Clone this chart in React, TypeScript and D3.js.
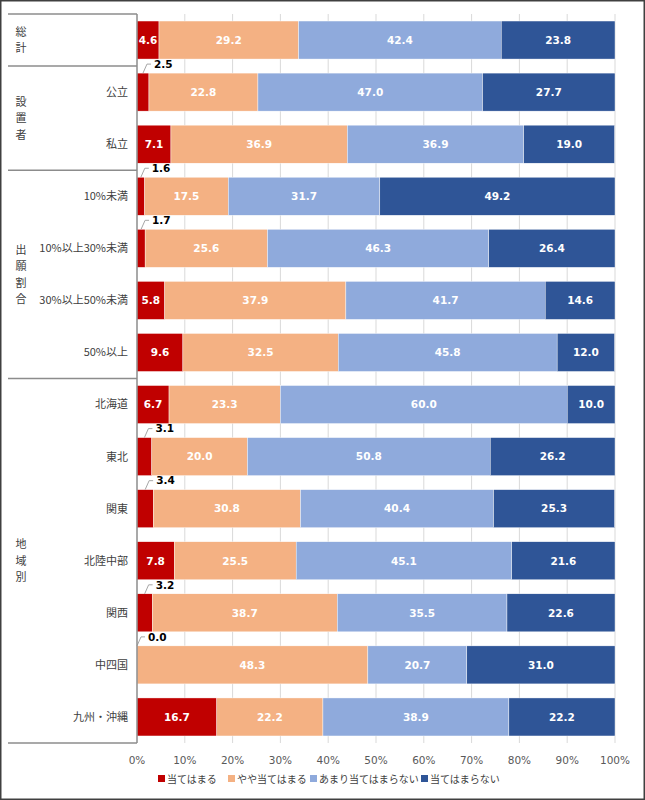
import React, { useEffect, useRef } from 'react';
import * as d3 from 'd3';

const categories = [
  '総計', '公立', '私立', '10%未満', '10%以上30%未満', '30%以上50%未満', '50%以上',
  '北海道', '東北', '関東', '北陸中部', '関西', '中四国', '九州・沖縄',
];
const rowLabels = [
  '', '公立', '私立', '10%未満', '10%以上30%未満', '30%以上50%未満', '50%以上',
  '北海道', '東北', '関東', '北陸中部', '関西', '中四国', '九州・沖縄',
];
const groupNames = ['総計', '設置者', '出願割合', '地域別'];
const groupSizes = [1, 2, 4, 7];

const seriesNames = ['当てはまる', 'やや当てはまる', 'あまり当てはまらない', '当てはまらない'];
const seriesColors = ['#C00000', '#F4B183', '#8FAADC', '#2F5597'];

const applies = [4.6, 2.5, 7.1, 1.6, 1.7, 5.8, 9.6, 6.7, 3.1, 3.4, 7.8, 3.2, 0.0, 16.7];
const somewhat = [29.2, 22.8, 36.9, 17.5, 25.6, 37.9, 32.5, 23.3, 20.0, 30.8, 25.5, 38.7, 48.3, 22.2];
const notMuch = [42.4, 47.0, 36.9, 31.7, 46.3, 41.7, 45.8, 60.0, 50.8, 40.4, 45.1, 35.5, 20.7, 38.9];
const notAtAll = [23.8, 27.7, 19.0, 49.2, 26.4, 14.6, 12.0, 10.0, 26.2, 25.3, 21.6, 22.6, 31.0, 22.2];

const xTicks = [0, 10, 20, 30, 40, 50, 60, 70, 80, 90, 100];

const W = 645;
const H = 800;

export default function App() {
  const svgRef = useRef<SVGSVGElement>(null);

  useEffect(() => {
    if (!svgRef.current) return;
    const svg = d3.select(svgRef.current);
    svg.selectAll('*').remove();

    const left = 137;
    const right = 615;
    const top = 14;
    const bottom = 743;
    const tableLeft = 8;

    const x = d3.scaleLinear().domain([0, 100]).range([left, right]);
    const y = d3
      .scaleBand<string>()
      .domain(categories)
      .range([top, bottom])
      .paddingInner(0.27)
      .paddingOuter(0.135);

    const labelFont = "'Noto Sans CJK JP', 'Noto Sans', sans-serif";
    const numFont = "'DejaVu Sans', Verdana, sans-serif";

    // Background + frame
    svg.append('rect').attr('width', W).attr('height', H).attr('fill', '#fff');

    // Grid lines
    svg
      .append('g')
      .selectAll('line')
      .data(xTicks.slice(1))
      .join('line')
      .attr('x1', d => x(d))
      .attr('x2', d => x(d))
      .attr('y1', top)
      .attr('y2', bottom)
      .attr('stroke', '#d9d9d9')
      .attr('stroke-width', 1);

    // Stacked bars
    const rows = categories.map((c, i) => ({
      cat: c,
      vals: [applies[i], somewhat[i], notMuch[i], notAtAll[i]],
    }));

    const barG = svg.append('g');
    rows.forEach(r => {
      let acc = 0;
      const y0 = y(r.cat) as number;
      const bh = y.bandwidth();
      r.vals.forEach((v, si) => {
        const x0 = x(acc);
        const x1 = x(Math.min(acc + v, 100));
        acc += v;
        if (v > 0) {
          barG
            .append('rect')
            .attr('x', x0)
            .attr('y', y0)
            .attr('width', Math.max(0, x1 - x0))
            .attr('height', bh)
            .attr('fill', seriesColors[si])
            .attr('stroke', '#fff')
            .attr('stroke-width', 0.4);
        }
        const cx = (x0 + x1) / 2;
        if (v >= 4) {
          barG
            .append('text')
            .attr('x', cx)
            .attr('y', y0 + bh / 2)
            .attr('dy', '0.36em')
            .attr('text-anchor', 'middle')
            .attr('fill', '#fff')
            .style('font-family', numFont)
            .style('font-weight', 'bold')
            .style('font-size', '10.5px')
            .text(v.toFixed(1));
        } else {
          // outside label with leader line
          const ly = y0 - 9;
          barG
            .append('path')
            .attr('d', `M${cx},${y0} L${cx + 4},${ly} L${cx + 8},${ly}`)
            .attr('fill', 'none')
            .attr('stroke', '#a6a6a6')
            .attr('stroke-width', 1);
          barG
            .append('text')
            .attr('x', cx + 11)
            .attr('y', ly)
            .attr('dy', '0.36em')
            .attr('fill', '#000')
            .style('font-family', numFont)
            .style('font-weight', 'bold')
            .style('font-size', '10.5px')
            .text(v.toFixed(1));
        }
      });
    });

    // Left table lines
    const tbl = svg.append('g').attr('stroke', '#8c8c8c').attr('stroke-width', 1.5);
    tbl.append('line').attr('x1', left).attr('x2', left).attr('y1', top).attr('y2', bottom);
    const step = y.step();
    let start = 0;
    const bounds: number[] = [0];
    groupSizes.forEach(s => {
      start += s;
      bounds.push(start);
    });
    bounds.forEach(b => {
      const yy = top + b * step;
      tbl
        .append('line')
        .attr('x1', tableLeft)
        .attr('x2', left)
        .attr('y1', Math.min(yy, bottom))
        .attr('y2', Math.min(yy, bottom));
    });

    // Group labels (vertical)
    const gl = svg.append('g').style('font-family', labelFont).style('font-size', '11px').attr('fill', '#404040');
    groupNames.forEach((name, gi) => {
      const yc = top + ((bounds[gi] + bounds[gi + 1]) / 2) * step;
      const chars = Array.from(name);
      const lh = 16.5;
      chars.forEach((ch, ci) => {
        gl.append('text')
          .attr('x', 21)
          .attr('y', yc + (ci - (chars.length - 1) / 2) * lh)
          .attr('dy', '0.36em')
          .attr('text-anchor', 'middle')
          .text(ch);
      });
    });

    // Row labels
    svg
      .append('g')
      .selectAll('text')
      .data(categories)
      .join('text')
      .attr('x', 128)
      .attr('y', d => (y(d) as number) + y.bandwidth() / 2)
      .attr('dy', '0.36em')
      .attr('text-anchor', 'end')
      .attr('fill', '#404040')
      .style('font-family', labelFont)
      .style('font-size', '11px')
      .text((d, i) => rowLabels[i]);

    // X axis labels
    svg
      .append('g')
      .selectAll('text')
      .data(xTicks)
      .join('text')
      .attr('x', d => x(d))
      .attr('y', 760)
      .attr('dy', '0.36em')
      .attr('text-anchor', 'middle')
      .attr('fill', '#595959')
      .style('font-family', numFont)
      .style('font-size', '10.5px')
      .text(d => `${d}%`);

    // Legend
    const legendX = [158, 228, 310, 421];
    const lg = svg.append('g');
    seriesNames.forEach((n, i) => {
      lg.append('rect')
        .attr('x', legendX[i])
        .attr('y', 775)
        .attr('width', 7)
        .attr('height', 7)
        .attr('fill', seriesColors[i]);
      lg.append('text')
        .attr('x', legendX[i] + 9)
        .attr('y', 779)
        .attr('dy', '0.36em')
        .attr('fill', '#404040')
        .style('font-family', labelFont)
        .style('font-size', '10px')
        .text(n);
    });

    // Outer frame
    svg
      .append('rect')
      .attr('x', 0.75)
      .attr('y', 0.75)
      .attr('width', W - 1.5)
      .attr('height', H - 1.5)
      .attr('fill', 'none')
      .attr('stroke', '#404040')
      .attr('stroke-width', 1.5);
  }, []);

  return (
    <div>
      <style>{`body{margin:0}`}</style>
      <svg ref={svgRef} width={W} height={H} style={{ display: 'block' }} />
    </div>
  );
}
